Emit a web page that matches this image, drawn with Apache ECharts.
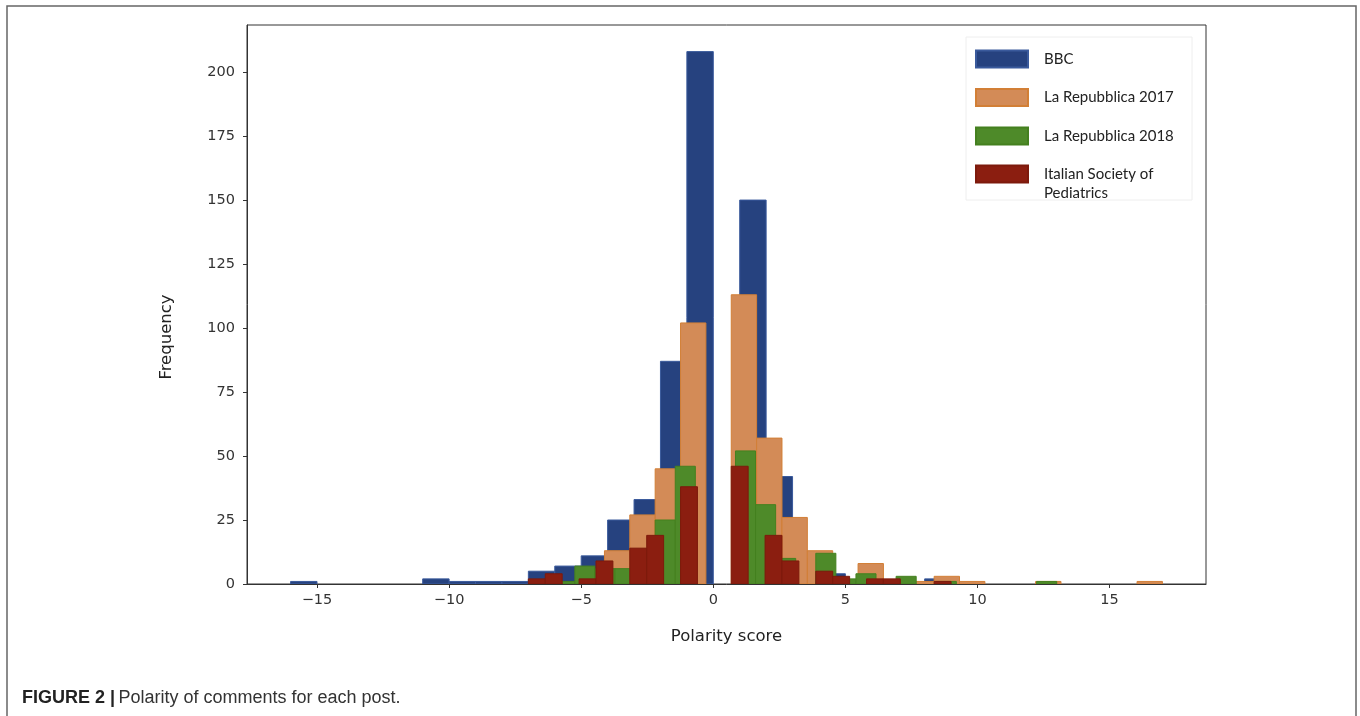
<!DOCTYPE html>
<html><head><meta charset="utf-8">
<script src="https://cdn.jsdelivr.net/npm/echarts@6/dist/echarts.min.js"></script>
<style>html,body{margin:0;padding:0;background:#fff}#c{width:1360px;height:716px}</style>
</head><body><div id="c"></div>
<script>
// ---- data (histogram counts, 25 equal bins per series over its data range) ----
const seriesNames = ['BBC', 'La Repubblica 2017', 'La Repubblica 2018', 'Italian Society of Pediatrics'];
const bbcRange = [-16, 9];
const bbcCounts = [1,0,0,0,0,2,1,1,1,5,7,11,25,33,87,208,0,150,42,10,4,1,0,0,2];
const rep2017Range = [-7, 17];
const rep2017Counts = [0,0,0,13,27,45,102,0,113,57,26,13,1,8,1,1,3,1,0,0,1,0,0,0,1];
const rep2018Range = [-6, 13];
const rep2018Counts = [1,7,6,6,12,25,46,0,0,52,31,10,0,12,2,4,1,3,0,1,0,0,0,0,1];
const sipRange = [-7, 9];
const sipCounts = [2,4,0,2,9,0,14,19,0,38,0,0,46,0,19,9,0,5,3,0,2,2,0,0,1];
const xTicks = [-15, -10, -5, 0, 5, 10, 15];
const yTicks = [0, 25, 50, 75, 100, 125, 150, 175, 200];
const xLimits = [-17.65, 18.65];
const yLimits = [0, 218.4];

// ---- styles ----
const fills = ['#26427f', '#d38b57', '#4e8a29', '#8b1e10'];
const strokes = ['#3a5a9c', '#d27f36', '#44801f', '#7d1a0c'];
const legendCenters = [59, 97.5, 136, 174];

function toBins(range, counts) {
  const w = (range[1] - range[0]) / counts.length;
  return counts.map((c, i) => [range[0] + i * w, range[0] + (i + 1) * w, c]).filter(d => d[2] > 0);
}
const allData = [toBins(bbcRange, bbcCounts), toBins(rep2017Range, rep2017Counts),
                 toBins(rep2018Range, rep2018Counts), toBins(sipRange, sipCounts)];

const series = seriesNames.map((name, si) => ({
  type: 'custom', name: name, data: allData[si], clip: true,
  encode: { x: [0, 1], y: 2 },
  itemStyle: { color: fills[si], borderColor: strokes[si], borderWidth: 1 },
  renderItem: function (params, api) {
    const p0 = api.coord([api.value(0), api.value(2)]);
    const p1 = api.coord([api.value(1), 0]);
    return { type: 'rect',
      shape: { x: p0[0], y: p0[1], width: p1[0] - p0[0], height: p1[1] - p0[1] },
      style: { fill: fills[si], stroke: strokes[si], lineWidth: 1 } };
  },
  z: 2 + si
}));

const legends = seriesNames.map((name, i) => {
  const two = i === 3;
  return {
    data: [name], orient: 'vertical', left: 975,
    top: two ? legendCenters[i] - 28.5 : legendCenters[i] - 9.5,
    padding: 0, itemWidth: 52, itemHeight: 17, icon: 'rect', selectedMode: false,
    formatter: two ? '\nItalian Society of\nPediatrics' : '{name}',
    textStyle: { fontFamily: 'Lato', fontSize: 15, color: '#222', lineHeight: 19,
                 padding: [0, 0, 0, 11] }
  };
});

const chart = echarts.init(document.getElementById('c'), null, { renderer: 'canvas' });
chart.setOption({
  animation: false,
  backgroundColor: '#ffffff',
  grid: { left: 247, right: 154, top: 25, bottom: 132, show: true, borderColor: '#333', borderWidth: 1 },
  xAxis: {
    type: 'value', min: xLimits[0], max: xLimits[1],
    name: 'Polarity score', nameLocation: 'middle', nameGap: 44,
    nameTextStyle: { fontFamily: 'DejaVu Sans', fontSize: 16.5, color: '#222' },
    splitLine: { show: false },
    axisLine: { onZero: false, lineStyle: { color: '#333', width: 1 } },
    axisTick: { show: true, length: 4, lineStyle: { color: '#333' }, customValues: xTicks },
    axisLabel: { customValues: xTicks, margin: 9, fontFamily: 'DejaVu Sans', fontSize: 14.5, color: '#333',
                 formatter: v => String(v).replace('-', '\u2212') }
  },
  yAxis: {
    type: 'value', min: yLimits[0], max: yLimits[1],
    name: 'Frequency', nameLocation: 'middle', nameGap: 72,
    nameTextStyle: { fontFamily: 'DejaVu Sans', fontSize: 16.5, color: '#222', padding: [0, 65, 0, 0] },
    splitLine: { show: false },
    axisLine: { show: true, onZero: false, lineStyle: { color: '#333', width: 1 } },
    axisTick: { show: true, length: 4, lineStyle: { color: '#333' }, customValues: yTicks },
    axisLabel: { customValues: yTicks, margin: 12, fontFamily: 'DejaVu Sans', fontSize: 14.5, color: '#333' }
  },
  legend: legends,
  series: series,
  graphic: [
    { type: 'polyline', shape: { points: [[7, 716], [7, 6], [1356, 6], [1356, 716]] },
      style: { stroke: '#666', lineWidth: 1.5, fill: null }, silent: true },
    { type: 'rect', shape: { x: 966, y: 37, width: 226, height: 163 },
      style: { stroke: '#eeeeee', lineWidth: 1, fill: null }, silent: true },
    { type: 'text', left: 22, top: 689, silent: true,
      style: { text: '{b|FIGURE 2 |} {n|Polarity of comments for each post.}',
        rich: { b: { fontFamily: 'Liberation Sans', fontWeight: 'bold', fontSize: 18, fill: '#222' },
                n: { fontFamily: 'Liberation Sans', fontSize: 18, fill: '#333' } } } }
  ]
});
</script></body></html>
